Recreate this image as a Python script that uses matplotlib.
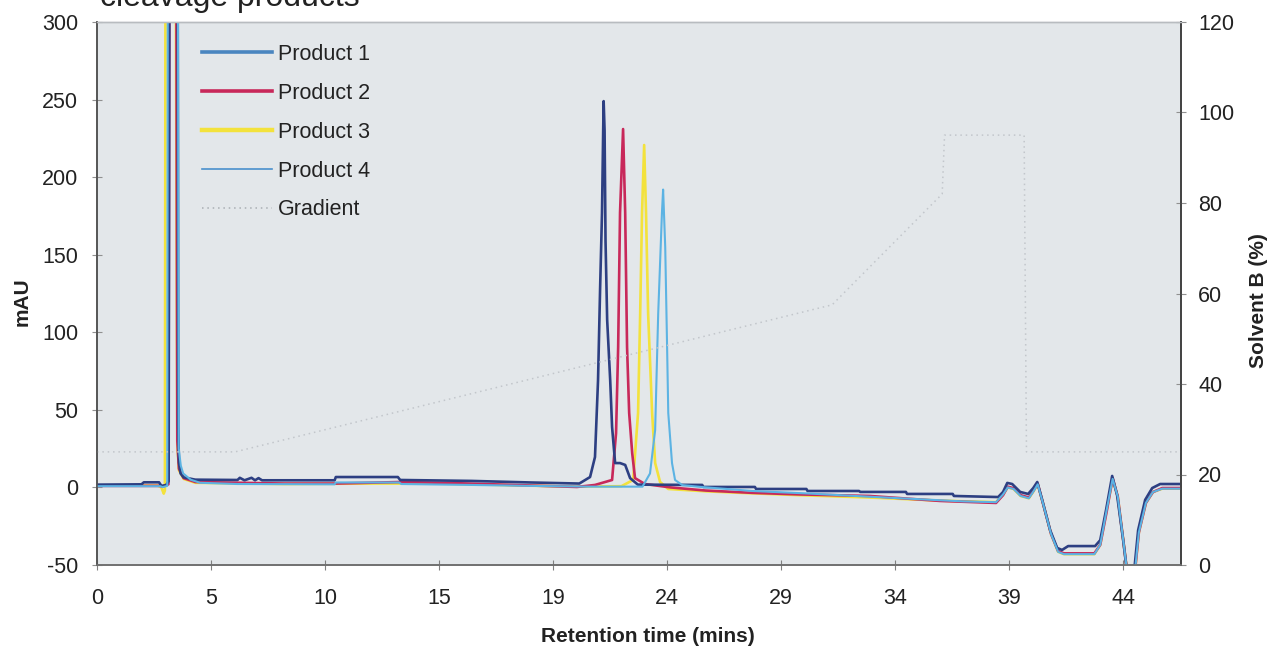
import matplotlib
matplotlib.use("Agg")
import matplotlib.pyplot as plt

plt.rcParams['font.family'] = ['Liberation Sans', 'DejaVu Sans']
plt.rcParams['axes.unicode_minus'] = False

# ---- chromatogram traces (retention time in min, absorbance in mAU) ----
p1_time = [0, 1.9, 2.0, 2.65, 2.75, 2.95, 3.06, 3.10, 3.44, 3.47, 3.50, 3.57, 3.7, 4.2,
           6.0, 6.1, 6.3, 6.6, 6.75, 6.9, 7.05, 10.15, 10.2, 12.85, 12.95, 16.0, 18.5, 20.6,
           21.06, 21.27, 21.40, 21.49, 21.57, 21.62, 21.64, 21.68, 21.72, 21.79, 21.92, 22.0,
           22.13, 22.34, 22.56, 22.77, 23.1, 25.85, 25.9, 28.1, 28.15, 30.3, 30.35, 32.55,
           32.6, 34.55, 34.6, 36.55, 36.6, 38.49, 38.70, 38.88, 39.09, 39.43, 39.77, 39.99,
           40.16, 40.37, 40.71, 41.01, 41.22, 41.48, 42.63, 42.85, 43.10, 43.36, 43.57, 43.83,
           44.04, 44.26, 44.47, 44.77, 45.07, 45.41, 46.3]
p1_mau = [1.8, 2.0, 3.3, 3.3, 1.0, 1.5, 4.0, 400, 400, 40, 16, 9, 6.5, 5.0,
          4.8, 6.2, 4.6, 6.2, 4.6, 6.0, 4.6, 4.6, 6.7, 6.7, 4.8, 4.2, 3.2, 2.5,
          6.7, 19.6, 69, 129, 177, 230, 249, 230, 159, 108, 69, 39,
          15.7, 15.7, 14.5, 6, 1.8, 1.6, 0.3, 0.3, -1.0, -1.0, -2.3, -2.3,
          -2.9, -2.9, -4.2, -4.2, -5.5, -6.2, -2.9, 2.9, 2.2, -2.9, -4.2, -0.4,
          3.5, -8, -27.5, -39, -40.3, -37.8, -37.8, -34, -14.5, 7.4, -4.9, -34,
          -60, -60, -27.5, -8, -0.4, 2.2, 2.2]

p2_time = [0, 2.7, 2.8, 3.05, 3.10, 3.38, 3.43, 3.5, 3.7, 4.2, 8.0, 10.2, 13.0, 15.0,
           18.0, 20.5, 21.27, 22.0, 22.17, 22.26, 22.34, 22.47, 22.56, 22.64, 22.73, 22.86,
           22.98, 23.4, 24.5, 26.0, 28.0, 30.0, 33.0, 36.0, 38.4, 38.70, 38.90, 39.15,
           39.45, 39.80, 40.0, 40.18, 40.40, 40.75, 41.05, 41.3, 42.6, 42.85, 43.12, 43.38,
           43.6, 43.85, 44.06, 44.28, 44.5, 44.8, 45.1, 45.5, 46.3]
p2_mau = [1.0, 1.0, 0.5, 2.0, 400, 400, 30, 12, 6, 3.5, 2.5, 2.5, 3.5, 2.9,
          1.5, 0.3, 1.6, 4.8, 35, 90.5, 177, 231, 177, 90.5, 48, 22,
          6, 2.2, 0, -2, -3.5, -4.5, -5.5, -8.7, -10, -5, 0.5, -0.5,
          -5, -6.5, -2, 2.5, -10, -30, -41, -42.5, -42.5, -37, -16, 6,
          -6, -36, -62, -62, -29, -10, -3, -0.4, -0.4]

p3_time = [0, 2.6, 2.75, 2.85, 2.9, 2.93, 3.35, 3.43, 3.5, 3.7, 4.2, 8.0, 12.0, 15.0,
           18.0, 20.5, 22.4, 22.9, 23.11, 23.2, 23.28, 23.37, 23.45, 23.54, 23.71, 23.84,
           24.05, 24.4, 26.0, 27.5, 30.0, 33.0, 36.0, 38.4, 38.70, 38.90, 39.15, 39.45,
           39.80, 40.0, 40.18, 40.40, 40.75, 41.05, 41.3, 42.6, 42.85, 43.12, 43.38, 43.6,
           43.85, 44.06, 44.28, 44.5, 44.8, 45.1, 45.5, 46.3]
p3_mau = [1.2, 1.2, 0, -4, -2, 400, 400, 28, 11, 5.5, 3, 2.2, 2.5, 2.4,
          1.3, 0.5, 0.8, 4.8, 48, 112, 177, 220.7, 177, 112, 48, 15.7,
          3.5, -1, -2.5, -3.5, -5, -6.5, -8.5, -9.5, -4.5, 0.0, -1.0, -5.5,
          -7, -2.5, 2.0, -10, -30, -41.5, -43, -43, -37, -15, 5.5, -6,
          -36, -62, -62, -29, -10, -3, -0.8, -0.8]

p4_time = [0, 2.7, 2.8, 3.0, 3.03, 3.45, 3.49, 3.58, 3.68, 4.0, 4.4, 6.0, 10.15, 10.2,
           12.9, 13.0, 16.0, 18.5, 21.0, 23.3, 23.62, 23.84, 23.97, 24.13, 24.18, 24.27,
           24.35, 24.40, 24.56, 24.69, 25.0, 25.8, 28.0, 30.5, 33.0, 35.0, 37.0, 38.4,
           38.70, 38.90, 39.15, 39.45, 39.80, 40.0, 40.18, 40.40, 40.75, 41.05, 41.3, 42.6,
           42.85, 43.12, 43.38, 43.6, 43.85, 44.06, 44.28, 44.5, 44.8, 45.1, 45.5, 46.3]
p4_mau = [0.8, 0.8, 0.2, 1.0, 400, 400, 25, 14, 9, 5, 3, 2.2, 2.0, 3.2,
          3.2, 2.2, 1.6, 1.0, 0.5, 0.5, 9, 37, 112, 177, 192, 155,
          90.5, 48, 15.7, 4.8, 1.5, 0.3, -2.3, -4, -6, -7.5, -9, -9.5,
          -4.5, 0.0, -1.0, -5.5, -7, -2.5, 2.0, -10, -30, -41.5, -43, -43,
          -37, -15, 5.5, -6, -36, -62, -62, -29, -10, -3, -0.8, -0.8]

# solvent B gradient programme (% B)
grad_time = [0, 5.9, 31.4, 36.1, 36.2, 39.6, 39.7, 46.3]
grad_pct = [25, 25, 57.5, 82, 95, 95, 25, 25]

series_names = ['Product 1', 'Product 2', 'Product 3', 'Product 4']
series_colors = ['#2d3f82', '#c8285a', '#f3e23c', '#5cb3e3']
series_widths = [1.9, 1.9, 1.9, 1.5]

x_tick_labels = ['0', '5', '10', '15', '19', '24', '29', '34', '39', '44']
x_tick_step = 4.87
x_max = 46.3

traces = [(p1_time, p1_mau), (p2_time, p2_mau), (p3_time, p3_mau), (p4_time, p4_mau)]
for t, v in traces:
    assert len(t) == len(v)

W, H = 1270, 652
fig = plt.figure(figsize=(W / 100, H / 100), dpi=100)
fig.patch.set_facecolor('white')

L, R, T, B = 97, 1181, 22, 565
ax = fig.add_axes([L / W, 1 - B / H, (R - L) / W, (B - T) / H])
ax.set_facecolor('#e3e7ea')
ax2 = ax.twinx()

# yellow and crimson underneath, then navy, light blue last
draw_order = [2, 1, 0, 3]
handles = [None] * 4
for z, i in enumerate(draw_order):
    t, v = traces[i]
    (ln,) = ax.plot(t, v, color=series_colors[i], lw=series_widths[i],
                    solid_joinstyle='round', zorder=3 + z)
    handles[i] = ln

(gl,) = ax2.plot(grad_time, grad_pct, color='#c2c6cb', lw=1.1,
                 linestyle=(0, (1, 2.5)), zorder=2)

ax.set_xlim(0, x_max)
ax.set_ylim(-50, 300)
ax2.set_ylim(0, 120)

ax.set_xticks([k * x_tick_step for k in range(len(x_tick_labels))])
ax.set_xticklabels(x_tick_labels)
ax.set_yticks(range(-50, 301, 50))
ax2.set_yticks(range(0, 121, 20))

tick_font = 15.5
ax.tick_params(axis='x', direction='inout', length=7, width=0.8, color='#808080',
               labelsize=tick_font, pad=13, labelcolor='#222222')
ax.tick_params(axis='y', direction='inout', length=7, width=0.8, color='#909090',
               labelsize=tick_font, pad=10, labelcolor='#222222')
ax2.tick_params(axis='y', direction='inout', length=7, width=0.8, color='#909090',
                labelsize=tick_font, pad=9, labelcolor='#222222')

for a in (ax, ax2):
    a.spines['left'].set_color('#555555')
    a.spines['left'].set_linewidth(1.2)
    a.spines['bottom'].set_color('#707070')
    a.spines['bottom'].set_linewidth(1.2)
    a.spines['right'].set_color('#444444')
    a.spines['right'].set_linewidth(1.3)
    a.spines['top'].set_color('#b8bcc0')
    a.spines['top'].set_linewidth(1.0)

# axis titles
fig.text(22 / W, 1 - 302 / H, 'mAU', rotation=90, ha='center', va='center',
         fontsize=15, fontweight='bold', color='#222222')
fig.text(1258 / W, 1 - 301 / H, 'Solvent B (%)', rotation=90, ha='center', va='center',
         fontsize=15, fontweight='bold', color='#222222')
fig.text(648 / W, 1 - 636 / H, 'Retention time (mins)', ha='center', va='center',
         fontsize=15, fontweight='bold', color='#222222')

# chart title running off the top edge
fig.text(100 / W, 1 - 6 / H, 'cleavage products', ha='left', va='baseline',
         fontsize=23, color='#222222')

leg = ax2.legend(handles + [gl], series_names + ['Gradient'],
                 loc='upper left', bbox_to_anchor=(202 / W, 1 - 44 / H),
                 bbox_transform=fig.transFigure, frameon=False,
                 fontsize=15.5, handlelength=3.25, handletextpad=0.28,
                 labelspacing=0.83, borderpad=0, borderaxespad=0)
for txt in leg.get_texts():
    txt.set_color('#222222')
leg.legend_handles[0].set_linewidth(2.6)
leg.legend_handles[0].set_color('#4a86c0')
leg.legend_handles[1].set_linewidth(2.6)
leg.legend_handles[2].set_linewidth(3.2)
leg.legend_handles[3].set_linewidth(1.2)
leg.legend_handles[3].set_color('#4a90cc')
leg.legend_handles[4].set_color('#a9aeb3')

fig.savefig('out.png', dpi=100, facecolor='white')
